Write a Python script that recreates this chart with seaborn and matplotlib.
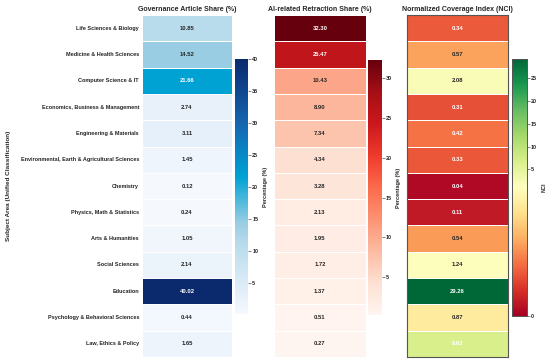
import matplotlib
matplotlib.use("Agg")
import matplotlib.pyplot as plt
import seaborn as sns
import pandas as pd
from matplotlib.colors import LinearSegmentedColormap, TwoSlopeNorm

subjects = [
    "Life Sciences & Biology",
    "Medicine & Health Sciences",
    "Computer Science & IT",
    "Economics, Business & Management",
    "Engineering & Materials",
    "Environmental, Earth & Agricultural Sciences",
    "Chemistry",
    "Physics, Math & Statistics",
    "Arts & Humanities",
    "Social Sciences",
    "Education",
    "Psychology & Behavioral Sciences",
    "Law, Ethics & Policy",
]
gov_share = [10.85, 14.52, 21.66, 2.74, 3.11, 1.45, 0.12, 0.24, 1.05, 2.14, 40.02, 0.44, 1.65]
retraction_share = [32.30, 25.47, 10.43, 8.90, 7.34, 4.34, 3.28, 2.13, 1.95, 1.72, 1.37, 0.51, 0.27]
nci = [0.34, 0.57, 2.08, 0.31, 0.42, 0.33, 0.04, 0.11, 0.54, 1.24, 29.26, 0.87, 6.63]

sns.set_style("white")
plt.rcParams['font.family'] = ['Liberation Sans', 'DejaVu Sans']
plt.rcParams['font.weight'] = 'bold'

df_gov = pd.DataFrame({"gov": gov_share}, index=subjects)
df_ret = pd.DataFrame({"ret": retraction_share}, index=subjects)
df_nci = pd.DataFrame({"nci": nci}, index=subjects)

blue_cmap = LinearSegmentedColormap.from_list(
    "govblue",
    [(0.0, "#f5f9fe"), (0.07, "#e6f0fa"), (0.27, "#b8dcec"), (0.36, "#99cde3"),
     (0.54, "#00a2d4"), (0.75, "#1565b0"), (1.0, "#0b2a6e")]
)

fig = plt.figure(figsize=(5.5, 3.64), dpi=100)

ax1 = fig.add_axes([0.258, 0.019, 0.164, 0.94])
cax1 = fig.add_axes([0.427, 0.137, 0.024, 0.70])
ax2 = fig.add_axes([0.498, 0.019, 0.167, 0.94])
cax2 = fig.add_axes([0.669, 0.135, 0.025, 0.70])
ax3 = fig.add_axes([0.740, 0.019, 0.184, 0.94])
cax3 = fig.add_axes([0.931, 0.132, 0.027, 0.706])

annot_kws = {"fontsize": 4.2, "fontweight": "bold"}

sns.heatmap(df_gov, ax=ax1, cbar_ax=cax1, cmap=blue_cmap, annot=True, fmt=".2f",
            annot_kws=annot_kws, linewidths=0.5, linecolor="white",
            cbar_kws={"label": "Percentage (%)"})
sns.heatmap(df_ret, ax=ax2, cbar_ax=cax2, cmap="Reds", annot=True, fmt=".2f",
            annot_kws=annot_kws, linewidths=0.5, linecolor="white",
            cbar_kws={"label": "Percentage (%)"}, yticklabels=False)
norm = TwoSlopeNorm(vmin=0, vcenter=1, vmax=max(nci))
sns.heatmap(df_nci, ax=ax3, cbar_ax=cax3, cmap="RdYlGn", norm=norm, annot=True, fmt=".2f",
            annot_kws=annot_kws, linewidths=0.5, linecolor="white",
            cbar_kws={"label": "NCI"}, yticklabels=False)

titles = ["Governance Article Share (%)", "AI-related Retraction Share (%)",
          "Normalized Coverage Index (NCI)"]
for ax, t in zip([ax1, ax2, ax3], titles):
    ax.set_title(t, fontsize=5.0, fontweight="bold", pad=3)
    ax.set_xticks([])
    ax.set_xlabel("")

ax1.set_ylabel("Subject Area (Unified Classification)", fontsize=4.6, fontweight="bold")
ax1.yaxis.set_label_coords(-1.45, 0.5)
ax1.tick_params(axis="y", length=0, labelsize=4.0, pad=2)
for lab in ax1.get_yticklabels():
    lab.set_fontweight("bold")
ax2.set_ylabel("")
ax3.set_ylabel("")

# NCI panel is framed
for sp in ax3.spines.values():
    sp.set_visible(True)
    sp.set_color("#555555")
    sp.set_linewidth(0.8)

# last NCI annotation is drawn light in the reference
for txt in ax3.texts:
    if txt.get_text() == "6.63":
        txt.set_color("white")

for cax in [cax1, cax2, cax3]:
    cax.tick_params(labelsize=3.9, length=2, width=0.4, pad=1)
    cax.yaxis.label.set_size(4.0)
    cax.yaxis.label.set_weight("bold")
    cax.yaxis.labelpad = 3
cax3.set_yticks([0, 5, 10, 15, 20, 25])
for sp in cax3.spines.values():
    sp.set_visible(True)
    sp.set_color("#555555")
    sp.set_linewidth(0.6)

plt.savefig("out.png", dpi=100)
